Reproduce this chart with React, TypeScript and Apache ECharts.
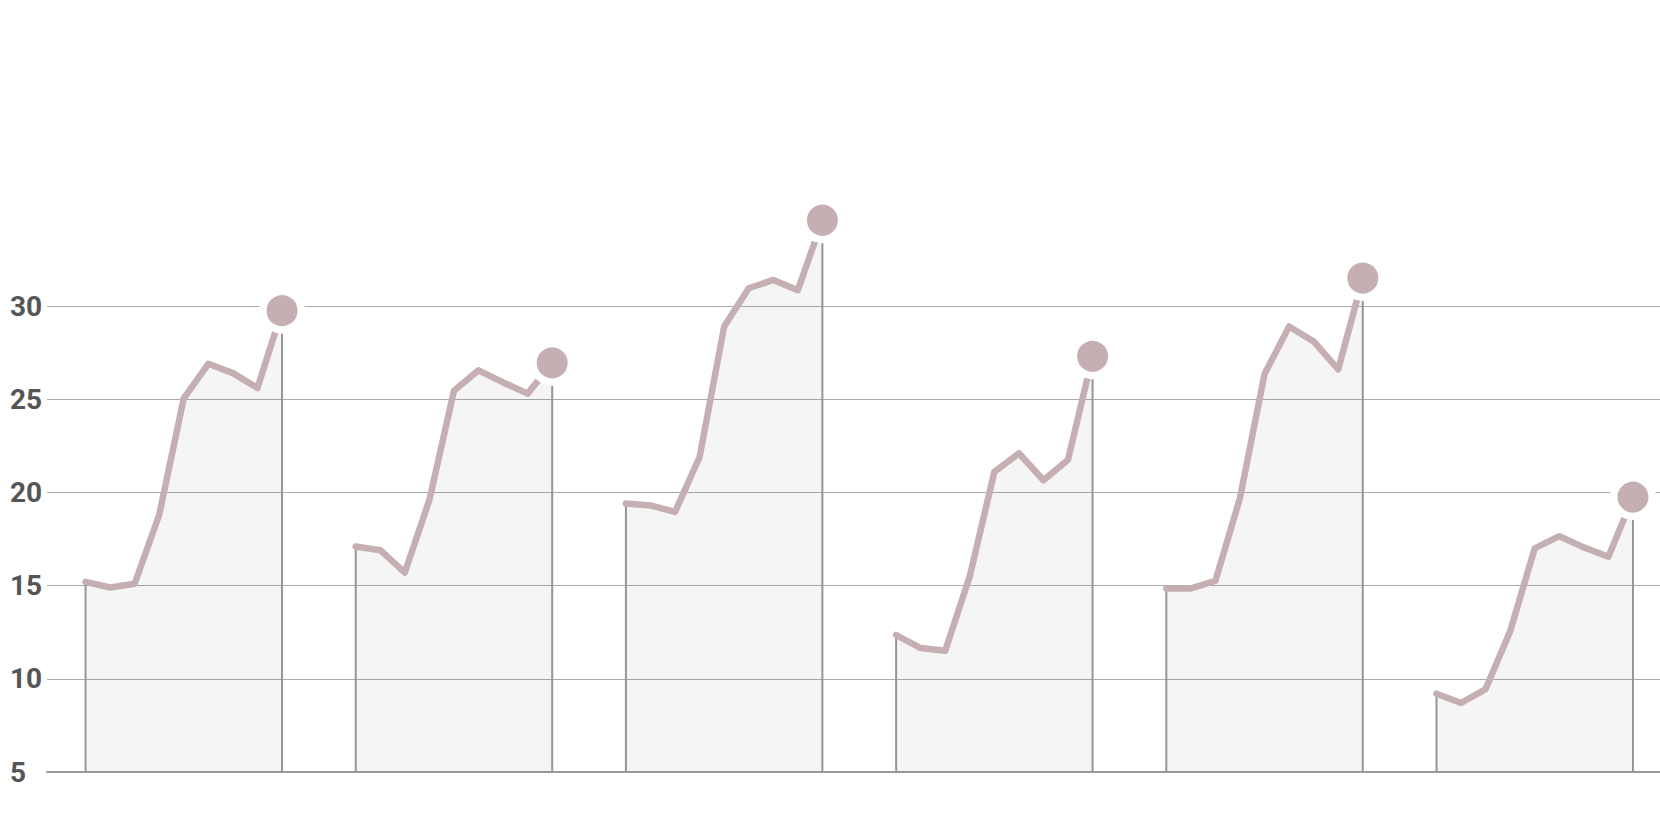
import React, { useEffect, useRef } from "react";
import * as echarts from "echarts";

// Six small runs of nine readings each; each run is separated by two empty slots.
const groupA = [15.2, 14.9, 15.1, 18.8, 25.05, 26.9, 26.4, 25.6, 29.75];
const groupB = [17.1, 16.9, 15.7, 19.6, 25.45, 26.55, 25.9, 25.3, 26.95];
const groupC = [19.4, 19.3, 18.95, 21.9, 28.9, 30.95, 31.4, 30.85, 34.6];
const groupD = [12.35, 11.65, 11.5, 15.5, 21.1, 22.1, 20.65, 21.75, 27.3];
const groupE = [14.85, 14.85, 15.25, 19.7, 26.35, 28.9, 28.1, 26.6, 31.5];
const groupF = [9.2, 8.7, 9.45, 12.55, 17.0, 17.65, 17.05, 16.55, 19.75];

const groups = [groupA, groupB, groupC, groupD, groupE, groupF];
const slotsPerGroup = 11; // 9 readings + 2 empty slots
const yTicks = [5, 10, 15, 20, 25, 30];

const LINE_COLOR = "#c6afb2";
const DROP_COLOR = "#999999";

export default function App() {
  const ref = useRef<HTMLDivElement>(null);

  useEffect(() => {
    if (!ref.current) return;
    const chart = echarts.init(ref.current, undefined, { renderer: "svg" });

    const series: any[] = [];
    groups.forEach((vals, g) => {
      const start = g * slotsPerGroup;
      const last = vals.length - 1;
      // drop lines (first and last reading down to the baseline)
      [0, last].forEach((i) => {
        series.push({
          type: "line",
          data: [
            [start + i, yTicks[0]],
            [start + i, vals[i]],
          ],
          symbol: "none",
          clip: false,
          z: 1,
          silent: true,
          lineStyle: { color: DROP_COLOR, width: 2 },
        });
      });
      series.push({
        type: "line",
        clip: false,
        z: 3,
        showSymbol: true,
        showAllSymbol: true,
        symbol: "none",
        data: vals.map((v, i) =>
          i === last
            ? {
                value: [start + i, v],
                symbol: "circle",
                symbolSize: 38.5,
                itemStyle: {
                  color: LINE_COLOR,
                  borderColor: "#ffffff",
                  borderWidth: 7.5,
                },
              }
            : { value: [start + i, v], symbol: "none" }
        ),
        lineStyle: { color: LINE_COLOR, width: 6.5, cap: "round", join: "round" },
        itemStyle: { color: LINE_COLOR },
        areaStyle: { color: "rgba(0,0,0,0.055)", origin: "start" },
      });
    });

    chart.setOption({
      animation: false,
      backgroundColor: "#ffffff",
      grid: { left: 47, right: 0, top: 306, bottom: 56, containLabel: false },
      xAxis: {
        type: "value",
        min: -1.568,
        max: 64.1,
        axisLine: { show: true, onZero: false, lineStyle: { color: "#999999", width: 2 } },
        axisTick: { show: false },
        axisLabel: { show: false },
        splitLine: { show: false },
      },
      yAxis: {
        type: "value",
        min: yTicks[0],
        max: yTicks[yTicks.length - 1],
        interval: 5,
        axisLine: { show: false },
        axisTick: { show: false },
        axisLabel: {
          align: "left",
          margin: 37,
          fontSize: 28,
          fontWeight: "bold",
          fontFamily: "Roboto",
          color: "#555555",
          padding: [6, 0, 0, 0],
        },
        splitLine: { show: true, lineStyle: { color: "#ababab", width: 1 } },
      },
      series,
    });

    const onResize = () => chart.resize();
    window.addEventListener("resize", onResize);
    return () => {
      window.removeEventListener("resize", onResize);
      chart.dispose();
    };
  }, []);

  return (
    <div
      ref={ref}
      style={{ position: "fixed", left: 0, top: 0, width: 1660, height: 828 }}
    />
  );
}
